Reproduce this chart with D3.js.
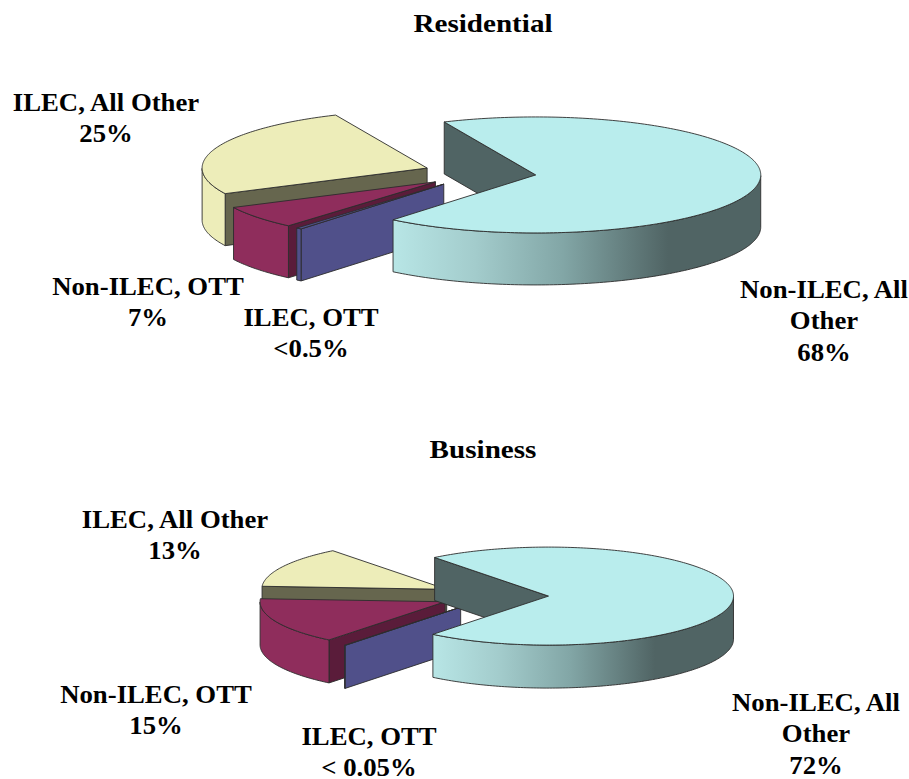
<!DOCTYPE html>
<html>
<head>
<meta charset="utf-8">
<script src="https://cdn.jsdelivr.net/npm/d3@7"></script>
<style>
  html, body { margin: 0; padding: 0; background: #fff; }
  text { font-family: "Liberation Serif", serif; font-weight: bold; font-size: 25px; fill: #000; text-anchor: middle; }
  .title { font-size: 26px; }
</style>
</head>
<body>
<div id="chart"></div>
<script>
// slices, clockwise, in the order they go round the pie
// values are read off the drawn wedge angles, the labels carry the printed percentages
const categories = ["Non-ILEC, All Other", "ILEC, OTT", "Non-ILEC, OTT", "ILEC, All Other"];
const residentialValues = [67.6, 0.4, 6.4, 25.6];
const businessValues = [71.3, 0.05, 15.2, 13.45];

const residentialLabels = [
  {lines: ["Non-ILEC, All", "Other", "68%"], x: 824, y: 298},
  {lines: ["ILEC, OTT", "<0.5%"], x: 311, y: 326},
  {lines: ["Non-ILEC, OTT", "7%"], x: 148, y: 295},
  {lines: ["ILEC, All Other", "25%"], x: 106, y: 111}
];
const businessLabels = [
  {lines: ["Non-ILEC, All", "Other", "72%"], x: 816, y: 711},
  {lines: ["ILEC, OTT", "< 0.05%"], x: 369, y: 745},
  {lines: ["Non-ILEC, OTT", "15%"], x: 156, y: 703},
  {lines: ["ILEC, All Other", "13%"], x: 175, y: 528}
];

const topColors = ["#b9eded", "#50508a", "#8f2d5c", "#ededb9"];
const wallColors = ["#506464", "#50508a", "#5a1c3a", "#66664e"];
const rimColors = ["url(#bigRim)", "#50508a", "#8f2d5c", "#ededb9"];

const width = 909;
const height = 779;

const svg = d3.select("#chart")
  .append("svg")
  .attr("width", width)
  .attr("height", height);

function addRimGradient(id, x1, x2, stops) {
  const grad = svg.append("defs").append("linearGradient")
    .attr("id", id)
    .attr("gradientUnits", "userSpaceOnUse")
    .attr("x1", x1).attr("x2", x2)
    .attr("y1", 0).attr("y2", 0);
  grad.selectAll("stop")
    .data(stops)
    .enter()
    .append("stop")
    .attr("offset", d => d[0])
    .attr("stop-color", d => d[1]);
}

// the source text is wider than the installed serif, so stretch it a bit
function addText(x, y, str, cls, stretch) {
  svg.append("text")
    .attr("class", cls)
    .attr("transform", `translate(${x},${y}) scale(${stretch},1)`)
    .text(str);
}

function drawPie(values, opt) {
  const deg = Math.PI / 180;
  const pie = d3.pie().sort(null)
    .startAngle(opt.start * deg)
    .endAngle((opt.start + 360) * deg);
  const arcs = pie(values);

  // maps an angle (clockwise from 12 o'clock) and a radius to the tilted plane
  const px = (cx, a, r) => cx + opt.rx * r * Math.sin(a);
  const py = (cy, a, r) => cy - opt.ry * r * Math.cos(a);
  const line = d3.line();

  const g = svg.append("g");

  // painter's order: the big slice has to go on top of the others
  const order = [3, 2, 1, 0];
  order.forEach(i => {
    const d = arcs[i];
    const mid = (d.startAngle + d.endAngle) / 2;
    const cx = px(opt.cx, mid, opt.explode);
    const cy = py(opt.cy, mid, opt.explode);

    const steps = Math.max(2, Math.ceil((d.endAngle - d.startAngle) / deg));
    const angles = d3.range(steps + 1).map(k => d.startAngle + (d.endAngle - d.startAngle) * k / steps);
    const rimPts = angles.map(a => [px(cx, a, 1), py(cy, a, 1)]);

    // radial wall on the start side
    const p0 = [px(cx, d.startAngle, 1), py(cy, d.startAngle, 1)];
    g.append("path")
      .attr("d", line([[cx, cy], p0, [p0[0], p0[1] + opt.depth], [cx, cy + opt.depth]]) + "Z")
      .attr("fill", wallColors[i]);

    // outer wall, only the part facing the viewer
    const front = angles.filter(a => a >= 90 * deg && a <= 270 * deg);
    if (front.length > 1) {
      const upper = front.map(a => [px(cx, a, 1), py(cy, a, 1)]);
      const lower = upper.slice().reverse().map(p => [p[0], p[1] + opt.depth]);
      g.append("path")
        .attr("d", line(upper.concat(lower)) + "Z")
        .attr("fill", i === 0 ? opt.rimFill : rimColors[i]);
    }

    // top face
    g.append("path")
      .attr("d", line([[cx, cy]].concat(rimPts)) + "Z")
      .attr("fill", topColors[i]);
  });

  g.selectAll("path")
    .attr("stroke", "#2c2c2c")
    .attr("stroke-width", 0.9)
    .attr("stroke-linejoin", "round");

  addText(opt.titleX, opt.titleY, opt.title, "title", 1.12);

  opt.labels.forEach(l => {
    l.lines.forEach((t, k) => addText(l.x, l.y + k * 31.3, t, "label", 1.07));
  });
}

const rimStops = [
  [0, "#b8e6e6"], [0.3, "#a3cccc"], [0.62, "#82a6a6"], [1, "#506464"]
];
addRimGradient("bigRimA", 392, 668, rimStops);
addRimGradient("bigRimB", 432, 655, rimStops);

drawPie(residentialValues, {
  title: "Residential", titleX: 483, titleY: 32,
  cx: 480, cy: 173, rx: 225, ry: 58, depth: 52, explode: 0.25, start: -24,
  rimFill: "url(#bigRimA)", labels: residentialLabels
});

drawPie(businessValues, {
  title: "Business", titleX: 483, titleY: 458,
  cx: 494.5, cy: 596, rx: 185, ry: 49, depth: 43, explode: 0.292, start: -38,
  rimFill: "url(#bigRimB)", labels: businessLabels
});
</script>
</body>
</html>
